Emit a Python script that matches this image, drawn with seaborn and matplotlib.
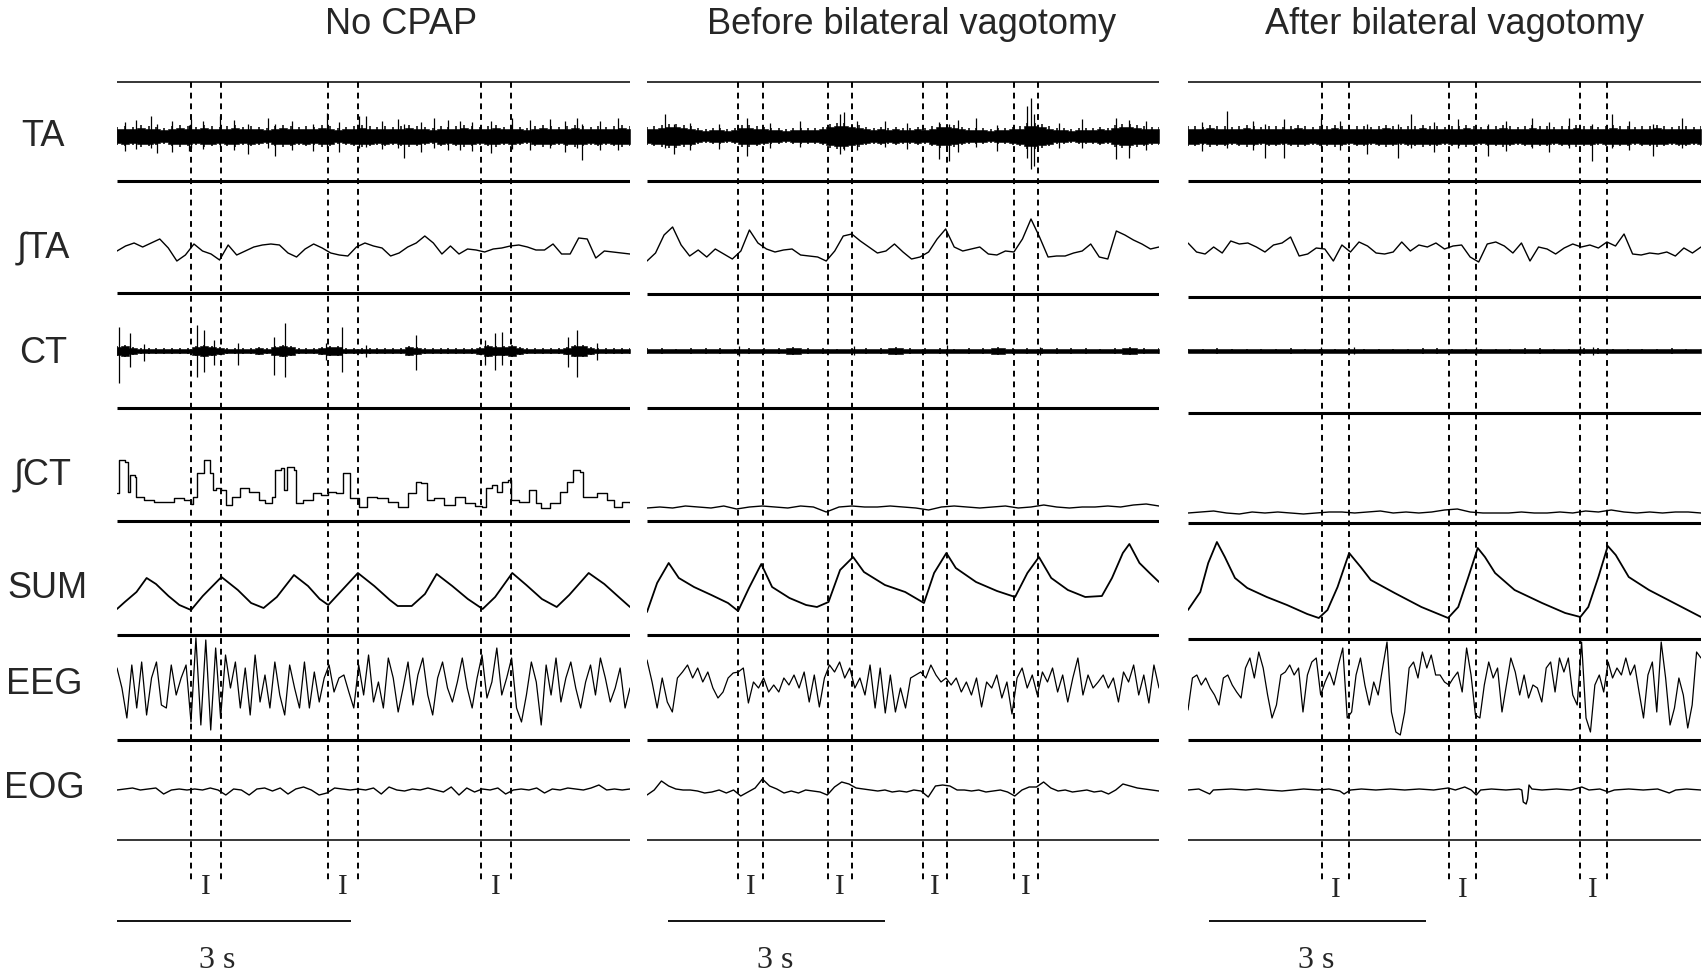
import numpy as np
import matplotlib
matplotlib.use("Agg")
import matplotlib.pyplot as plt
import seaborn as sns

sns.set_style("white")
plt.rcParams["font.family"] = ["Liberation Sans", "DejaVu Sans"]

# ---------------- data ----------------
titles = ["No CPAP", "Before bilateral vagotomy", "After bilateral vagotomy"]
channels = ["TA", "\u222bTA", "CT", "\u222bCT", "SUM", "EEG", "EOG"]
durations = [6.58, 7.08, 7.10]          # seconds shown per panel
bar_start = [0.0, 0.29, 0.29]           # start of the 3 s scale bar
bar_len = 3.0

# inspiration (I) onset / offset, s
insp_1 = [(0.95, 1.34), (2.70, 3.09), (4.67, 5.06)]
insp_2 = [(1.265, 1.60), (2.505, 2.84), (3.815, 4.145), (5.075, 5.41)]
insp_3 = [(1.85, 2.23), (3.615, 3.98), (5.42, 5.795)]

# TA raw EMG: half-width of the dense band (px) and single spikes (t, up, down)
ta_hw_1 = [9, 10, 9, 11, 10, 9, 8, 10, 11, 10, 9, 11, 10, 9, 10, 11, 9, 10, 9, 8,
           10, 11, 10, 9, 10, 9, 11, 10, 8, 9, 10, 11, 10, 9, 10, 9, 10, 11, 10, 9,
           8, 10, 9, 10, 11, 10, 9, 10, 11, 9, 10, 9, 8, 10, 11, 10, 9, 10, 11, 10,
           9, 10, 9, 10, 11, 10]
ta_spk_1 = [(0.10, 14, 15), (0.25, 16, 13), (0.43, 20, 12), (0.51, 12, 17), (0.70, 15, 16),
            (0.92, 11, 15), (0.95, 17, 12), (1.10, 15, 13), (1.32, 20, 11), (1.50, 16, 14),
            (1.68, 12, 18), (1.94, 18, 12), (2.03, 12, 20), (2.25, 15, 14), (2.51, 12, 15),
            (2.69, 23, 12), (2.85, 14, 16), (3.10, 20, 12), (3.20, 20, 11), (3.40, 15, 13),
            (3.60, 17, 12), (3.68, 12, 22), (3.90, 14, 16), (4.07, 18, 12), (4.25, 16, 14),
            (4.40, 15, 14), (4.55, 14, 15), (4.80, 15, 17), (5.07, 18, 13), (5.30, 16, 14),
            (5.55, 17, 12), (5.75, 15, 16), (5.90, 18, 12), (5.96, 12, 24), (6.20, 15, 14),
            (6.42, 18, 14)]
ta_hw_2 = [9, 10, 11, 12, 12, 11, 10, 8, 7, 8, 8, 7, 8, 11, 11, 10, 9, 8, 8, 7,
           8, 8, 8, 8, 9, 12, 13, 13, 12, 11, 9, 8, 9, 8, 9, 8, 8, 9, 8, 10,
           12, 12, 11, 9, 8, 8, 8, 7, 8, 8, 9, 10, 13, 13, 12, 10, 8, 8, 7, 8,
           8, 8, 9, 8, 11, 12, 12, 11, 10, 9, 9]
ta_spk_2 = [(0.25, 22, 12), (0.37, 12, 18), (0.60, 13, 14), (1.00, 12, 13), (1.38, 18, 20),
            (1.70, 13, 12), (2.11, 15, 11), (2.67, 22, 18), (2.72, 24, 14), (2.91, 15, 14),
            (3.29, 15, 11), (3.60, 13, 13), (4.04, 14, 23), (4.18, 12, 25), (4.30, 16, 16),
            (4.55, 18, 11), (4.84, 11, 15), (5.26, 30, 22), (5.31, 38, 33), (5.35, 22, 30),
            (5.70, 13, 12), (6.01, 17, 12), (6.48, 18, 23), (6.67, 16, 22), (6.90, 15, 14)]
ta_hw_3 = [10, 10, 9, 11, 10, 10, 9, 10, 11, 10, 9, 10, 10, 9, 10, 11, 10, 9, 10, 10,
           11, 10, 9, 10, 10, 9, 10, 11, 10, 9, 10, 10, 11, 10, 10, 9, 10, 10, 11, 10,
           9, 10, 10, 11, 10, 9, 10, 11, 10, 10, 9, 10, 10, 11, 10, 10, 9, 10, 11, 10,
           10, 9, 10, 10, 11, 10, 9, 10, 10, 9, 10]
ta_spk_3 = [(0.20, 14, 15), (0.54, 25, 12), (0.90, 15, 14), (1.07, 12, 22), (1.33, 17, 22),
            (1.84, 18, 12), (2.10, 15, 14), (2.48, 12, 18), (2.90, 12, 22), (3.09, 22, 12),
            (3.40, 14, 16), (3.74, 17, 12), (4.15, 12, 20), (4.40, 15, 15), (4.76, 18, 12),
            (5.00, 14, 16), (5.27, 18, 12), (5.59, 12, 25), (5.87, 22, 12), (6.10, 15, 14),
            (6.43, 12, 20), (6.84, 18, 12)]

# integrated TA (px, up positive), evenly sampled
ita_1 = [-2, 3, 6, 2, 6, 10, 1, -12, -6, 5, -2, -5, -11, 4, -6, -2, 2, 4, 5, 4,
         -4, -8, 0, 5, 1, -4, -6, -7, 2, 6, 3, 1, -7, -4, 2, 6, 13, 6, -5, 3,
         -5, 0, -1, -3, 0, 1, 3, 4, 2, -1, -1, 5, -5, -5, 11, 10, -9, -2, -3, -4, -5]
ita_2 = [-12, -4, 14, 22, 4, -7, -1, -8, 0, -5, -10, -2, 19, 6, 0, -3, -1, 0, -6, -7,
         -8, -12, -2, 13, 15, 8, 2, -4, -2, 5, -3, -10, -8, -3, 10, 20, 2, -2, 0, 2,
         -5, -6, -2, -3, 10, 30, 12, -8, -7, -7, -4, -2, 5, -8, -10, 18, 14, 9, 5, 0, 2]
ita_3 = [6, -3, -5, 2, -4, 8, 5, 6, 2, -3, 4, 6, 12, -7, -5, 1, 0, -12, 4, -3,
         7, 3, -4, -5, -3, 7, -2, 4, 2, 6, 0, 3, 4, -8, -13, 5, 7, 3, -4, 6,
         -12, 2, 0, -5, 1, 5, 2, 4, 1, 7, 3, 15, -5, -6, -4, -5, -3, -7, 1, -4, 2]

# CT raw EMG band half-width and spikes
ct_hw_1 = [5, 6, 4, 3, 3, 3, 3, 3, 3, 3, 5, 6, 5, 4, 3, 3, 3, 3, 4, 3,
           5, 6, 5, 3, 3, 3, 4, 5, 5, 3, 3, 3, 3, 3, 3, 3, 3, 5, 4, 3,
           3, 3, 3, 3, 3, 3, 4, 6, 5, 5, 6, 4, 3, 3, 3, 3, 3, 4, 6, 6,
           4, 3, 3, 3, 3, 3]
ct_spk_1 = [(0.03, 24, 32), (0.17, 18, 16), (0.34, 7, 10), (1.03, 26, 26), (1.12, 21, 21),
            (1.25, 11, 14), (1.55, 8, 14), (2.01, 14, 24), (2.16, 28, 26), (2.68, 8, 9),
            (2.88, 24, 21), (3.20, 6, 6), (3.83, 16, 19), (4.72, 11, 14), (4.85, 18, 19),
            (4.94, 19, 14), (5.79, 14, 16), (5.90, 21, 26), (6.16, 8, 9)]
ct_hw_2 = [3, 3, 2, 3, 3, 3, 2, 3, 3, 3, 4, 3, 3, 2, 3, 3, 3, 4, 3, 3,
           3, 2, 3, 3, 4, 3, 3, 3, 3, 3, 3, 2, 3, 4, 3, 3]
ct_spk_2 = [(1.27, 5, 5), (2.86, 5, 4), (4.15, 6, 5), (5.44, 4, 4)]
ct_hw_3 = [2, 2, 3, 2, 2, 2, 2, 3, 2, 2, 2, 3, 2, 2, 2, 2, 3, 3, 2, 2,
           2, 2, 2, 3, 3, 2, 2, 3, 3, 2, 2, 2, 2, 3, 2, 2]
ct_spk_3 = [(1.84, 4, 4), (2.30, 4, 3), (3.98, 4, 4), (5.42, 5, 4), (5.60, 4, 4)]

# integrated CT
ict_t_1 = [0.00, 0.03, 0.10, 0.14, 0.17, 0.23, 0.25, 0.34, 0.47, 0.60,
           0.73, 0.86, 0.95, 0.97, 1.03, 1.12, 1.19, 1.23, 1.27, 1.34,
           1.40, 1.47, 1.58, 1.69, 1.82, 1.90, 1.99, 2.03, 2.10, 2.14,
           2.18, 2.27, 2.29, 2.38, 2.51, 2.62, 2.71, 2.81, 2.90, 2.97,
           2.99, 3.10, 3.21, 3.34, 3.47, 3.60, 3.73, 3.83, 3.90, 3.97,
           4.07, 4.20, 4.33, 4.46, 4.59, 4.68, 4.73, 4.81, 4.88, 4.94,
           5.01, 5.05, 5.16, 5.29, 5.38, 5.44, 5.55, 5.68, 5.77, 5.85,
           5.94, 5.98, 6.16, 6.29, 6.38, 6.48, 6.58]
ict_1 = [7, 40, 38, 8, 25, 23, 3, 0, -2, -2,
         2, 0, -4, 3, 27, 40, 27, 10, 12, 10,
         -5, 3, 12, 8, 0, -3, 3, 30, 32, 10,
         33, 30, -3, 0, 7, 5, 8, 7, 27, 27,
         2, -7, 3, 2, -2, -7, 7, 18, 17, 0,
         2, -5, 3, -3, -6, -7, 12, 15, 8, 18,
         20, 0, -2, 10, -3, -8, -3, 8, 18, 30,
         28, 3, 7, 0, -7, -2, -3]
ict_2 = [-8, -7, -8, -6, -7, -8, -6, -9, -7, -6, -7, -8, -6, -7, -12, -7, -6, -7, -7, -6,
         -7, -8, -10, -7, -6, -7, -8, -7, -6, -8, -7, -5, -7, -8, -7, -7, -6, -7, -5, -4, -6]
ict_3 = [-13, -12, -11, -13, -14, -12, -13, -12, -13, -14, -13, -12, -12, -13, -12, -11,
         -13, -12, -13, -12, -10, -9, -12, -13, -13, -13, -12, -13, -13, -12, -13, -11,
         -12, -10, -12, -13, -12, -13, -12, -12, -13]

# SUM (px, up positive) at turning points
sum_t_1 = [0.00, 0.10, 0.25, 0.38, 0.50, 0.66, 0.80, 0.95, 1.10, 1.34, 1.55, 1.72, 1.88,
           2.05, 2.27, 2.45, 2.60, 2.71, 3.09, 3.30, 3.50, 3.60, 3.78, 3.95, 4.10, 4.30,
           4.50, 4.69, 4.85, 5.07, 5.25, 5.45, 5.64, 5.80, 6.05, 6.25, 6.45, 6.58]
sum_1 = [-19, -12, -2, 12, 6, -6, -15, -20, -6, 13, 0, -13, -18,
         -7, 15, 4, -9, -15, 17, 4, -10, -16, -16, -4, 16, 4,
         -9, -19, -7, 17, 5, -9, -17, -5, 17, 6, -8, -17]
sum_t_2 = [0.00, 0.14, 0.30, 0.44, 0.65, 0.89, 1.12, 1.26, 1.41, 1.58, 1.73, 1.97, 2.20,
           2.35, 2.51, 2.67, 2.85, 3.00, 3.29, 3.57, 3.83, 3.97, 4.14, 4.27, 4.55, 4.84,
           5.09, 5.26, 5.42, 5.59, 5.82, 6.06, 6.29, 6.43, 6.58, 6.67, 6.81, 6.95, 7.08]
sum_2 = [-22, 7, 27, 12, 3, -5, -13, -21, 2, 26, 3, -8, -15,
         -17, -12, 20, 33, 18, 5, -2, -13, 17, 37, 22, 8, -1,
         -7, 17, 33, 12, 0, -7, -6, 12, 37, 46, 27, 17, 8]
sum_t_3 = [0.00, 0.17, 0.28, 0.40, 0.51, 0.65, 0.82, 1.09, 1.37, 1.65, 1.81, 1.93, 2.07,
           2.23, 2.39, 2.53, 2.86, 3.23, 3.60, 3.74, 3.88, 4.01, 4.11, 4.25, 4.52, 4.90,
           5.22, 5.43, 5.54, 5.68, 5.81, 5.92, 6.10, 6.38, 6.70, 7.10]
sum_3 = [-20, -2, 27, 48, 33, 12, 2, -7, -15, -24, -28, -20, 3,
         37, 23, 10, -3, -17, -28, -17, 13, 42, 33, 17, 0, -13,
         -23, -27, -17, 13, 44, 35, 13, 0, -12, -27]

# EEG (px, up positive), evenly sampled
eeg_1 = [17, -3, -33, 20, -23, 23, -30, 7, 23, -20, -23, 20, -10, 7, 20, -37,
         47, -40, 45, -45, 37, -33, 30,
         -3, 23, -23, 17, -30, 30, -17, 10, -23, 23, -10, -30, 20, -3, -23, 23, -23, 13,
         -17, 7, 20, -7, 7,
         10, -7, -23, 20, -10, 30, -17, 3, -23, 27, 7, -27, -3, 23, -20, 10, 27, -10,
         -30, 7, 23, -3, -17, 3,
         27, -3, -23, 7, 30, -13, 3, 37, -10, 7, 27, -23, -37, -10, 23, 3, -40, 20,
         -10, 27, -17, 7, 23, -3, -23, 3, 20, -10, 27, 7, -17, -3, 17, -23, -3]
eeg_2 = [25, 3, -23, 7, -17, -27, 7, 13, 20, 7, 17, 3, 13, -3, -13, -7, 7, 12, 13,
         17, -18, 3, -3, 7, -7, 0, -7, 7, 0, 10, -3, 13, -17, 10, -22, 7,
         20, 13, 23, 7, 17, -3, 7, -10, 20, -23, 17, -28, 10, -27, -3, -23, 7,
         10, 13, 7, 20, 10, 3, 7, 0, 7, -7, 3, -10, 7, -22, 3, -3, 10, -13, 3, -29,
         7, 17, -3, 10, -10, 13, 3, 17, -7, 10, -17, 7, 27, -10, 10, -3, 3,
         10, -3, 7, -17, 13, 3, 20, -10, 10, -18, 20, -3]
eeg_3 = [-25, 7, 10, 0, 7, -3, -10, -20, 7, 10, 0, -7, -13,
         17, 27, 7, 33, 17, -10, -33, -20, 10, 13, 20, 10, 17, -27, 10, 23, 27,
         -10, 3, 13, 0, 20, 37, -33, -27, 10, 27, 0, -20, 3, -10, 17, 43,
         -27, -47, -50, -27, 17, 23, 7, 33, 17, 30, 10,
         10, 3, 0, 7, 13, -7, 37, 10, -30, -33, 0, 23, 7, 17, -27, 0,
         27, 13, -10, 10, -13, 0, -3, -17, 17, 23, -7, 27, 13, 27, -10, -20,
         43, -33, -47, 0, 10, -7, 23, 7, 17, 10, 27, 10, 20, -7, -33,
         10, 23, -27, 43, 7, -40, -23, 7, -10, -43, -20, 33, 27]

# EOG (px, up positive)
eog_1 = [0, 1, 2, 0, 1, 2, -4, 0, 1, 0, 1, 0, 2, 0, -5, 1, 0, -5, 1, 2,
         -1, 2, -4, 1, 3, 0, -5, -3, 2, 1, 0, 1, 0, 2, -4, 3, 0, -1, 1, 0,
         2, 0, -2, 3, -5, 2, -2, 1, 0, 2, -4, 0, 1, 0, 2, -3, 1, 0, 2, 1,
         0, 2, 5, 0, 1, 0, 1]
eog_2 = [-5, 0, 9, 4, 1, 0, 0, -1, -3, -2, 0, -3, 0, -6, -2, 2, 11, 4, 1, -3,
         -1, -3, 0, -1, -2, -5, 3, 8, 6, 2, 1, 0, -1, 0, -2, -1, -2, 0, -1, -7,
         4, 5, 4, 0, 0, -1, 0, -2, -1, 0, -2, -6, 0, 3, 3, 8, 2, -1, 0, -2,
         -1, 0, -2, -1, -4, 0, 6, 4, 2, 1, 0, -1]
eog_t_3 = [0, 0.15, 0.30, 0.35, 0.60, 0.80, 0.95, 1.10, 1.30, 1.45, 1.60, 1.80, 1.95,
           2.10, 2.16, 2.25, 2.40, 2.60, 2.80, 3.00, 3.20, 3.40, 3.60, 3.70, 3.83, 3.92,
           3.99, 4.05, 4.20, 4.40, 4.58, 4.62, 4.64, 4.68, 4.70, 4.72, 4.76, 4.90, 5.10,
           5.30, 5.45, 5.55, 5.70, 5.82, 5.90, 6.10, 6.30, 6.50, 6.66, 6.75, 6.90, 7.10]
eog_3 = [0, 1, -4, 0, 1, 0, 1, 0, -1, 0, 1, 0, 1,
         -1, -4, 0, 1, 0, 1, 0, 1, 0, 2, 0, 3, 0,
         -5, 0, 1, 0, 1, 0, -12, -14, -9, 5, 1, 0, 1,
         0, 3, 0, 1, -2, 0, 1, 0, 1, -3, 0, 1, 0]

# ---------------- layout (pixels of the 1703x976 canvas) ----------------
W, H = 1703, 976
panel_px = [(117, 630), (647, 1159), (1188, 1701)]
row_c = {"TA": 136, "iTA": 249, "CT": 351, "iCT": 500, "SUM": 590, "EEG": 685, "EOG": 790}
sep_px = [[81.5, 181.4, 293.2, 408.4, 521.3, 635.4, 739.6, 839.5],
          [81.5, 181.4, 294.0, 408.4, 520.5, 635.4, 739.6, 839.5],
          [81.5, 181.4, 296.5, 412.7, 523.0, 638.6, 739.6, 839.5]]
label_px = [(43, 136), (43, 248), (43, 354), (43, 475), (47, 588), (44, 684), (44, 789)]
title_x = [401, 912, 1455]
scale_txt_t = [1.28, 1.77, 1.77]
serif = ["Liberation Serif", "DejaVu Serif"]

panels = [
    dict(ta=(ta_hw_1, ta_spk_1), ita=ita_1, ct=(ct_hw_1, ct_spk_1), ict=(ict_t_1, ict_1),
         sum=(sum_t_1, sum_1), eeg=eeg_1, eog=(None, eog_1), insp=insp_1),
    dict(ta=(ta_hw_2, ta_spk_2), ita=ita_2, ct=(ct_hw_2, ct_spk_2), ict=(None, ict_2),
         sum=(sum_t_2, sum_2), eeg=eeg_2, eog=(None, eog_2), insp=insp_2),
    dict(ta=(ta_hw_3, ta_spk_3), ita=ita_3, ct=(ct_hw_3, ct_spk_3), ict=(None, ict_3),
         sum=(sum_t_3, sum_3), eeg=eeg_3, eog=(eog_t_3, eog_3), insp=insp_3),
]


def trace(ax, t, v, row, T, lw=1.0, **kw):
    v = np.asarray(v, float)
    t = np.linspace(0, T, len(v)) if t is None else np.asarray(t, float)
    sns.lineplot(x=t, y=row_c[row] - v, ax=ax, color="black", linewidth=lw,
                 estimator=None, sort=False, **kw)


def band(ax, hw, spikes, row, T, core=0.6):
    # dense EMG: solid core, a comb of hairs out to the read envelope, plus the big spikes
    c = row_c[row]
    hw = np.asarray(hw, float)
    t = np.linspace(0, T, len(hw))
    ax.fill_between(t, c - core * hw, c + core * hw, facecolor="black",
                    edgecolor="black", linewidth=0.4, step="mid")
    ax.vlines(t, c - hw, c + hw, colors="black", linewidth=1.1)
    st = np.array([s[0] for s in spikes])
    up = np.array([s[1] for s in spikes])
    dn = np.array([s[2] for s in spikes])
    ax.vlines(st, c - up, c + dn, colors="black", linewidth=0.9)


fig = plt.figure(figsize=(W / 100, H / 100), dpi=100)

for k, p in enumerate(panels):
    x0, x1 = panel_px[k]
    T = durations[k]
    ax = fig.add_axes([x0 / W, 0, (x1 - x0) / W, 1])

    # separators between channels
    for j, y in enumerate(sep_px[k]):
        ax.hlines(y, 0, T, colors="black", linewidth=1.1 if j in (0, 7) else 2.2)

    band(ax, *p["ta"], "TA", T, core=0.75)
    trace(ax, None, p["ita"], "iTA", T, lw=1.0)
    band(ax, *p["ct"], "CT", T, core=0.8)
    trace(ax, p["ict"][0], p["ict"][1], "iCT", T, lw=1.0,
          drawstyle="steps-post" if k == 0 else "default")
    trace(ax, p["sum"][0], p["sum"][1], "SUM", T, lw=1.3)
    trace(ax, None, p["eeg"], "EEG", T, lw=0.9)
    trace(ax, p["eog"][0], p["eog"][1], "EOG", T, lw=1.0)

    # inspiration markers
    for a, b in p["insp"]:
        ax.vlines([a, b], 82, 880, colors="black", linewidth=1.4, linestyles=(0, (3, 2.5)))
        ax.text((a + b) / 2, 887 if k < 2 else 890, "I", family=serif, fontsize=21,
                ha="center", va="center")

    # 3 s scale bar
    ax.hlines(921, bar_start[k], bar_start[k] + bar_len, colors="black", linewidth=1.3)
    ax.text(scale_txt_t[k], 960, "3 s", family=serif, fontsize=23, ha="center", va="center")

    ax.set_xlim(0, T)
    ax.set_ylim(H, 0)
    ax.set_axis_off()

    fig.text(title_x[k] / W, 1 - 25 / H, titles[k], fontsize=26, ha="center", va="center")

for name, (lx, ly) in zip(channels, label_px):
    fig.text(lx / W, 1 - ly / H, name, fontsize=26, ha="center", va="center")

fig.savefig("out.png", dpi=100, facecolor="white")
